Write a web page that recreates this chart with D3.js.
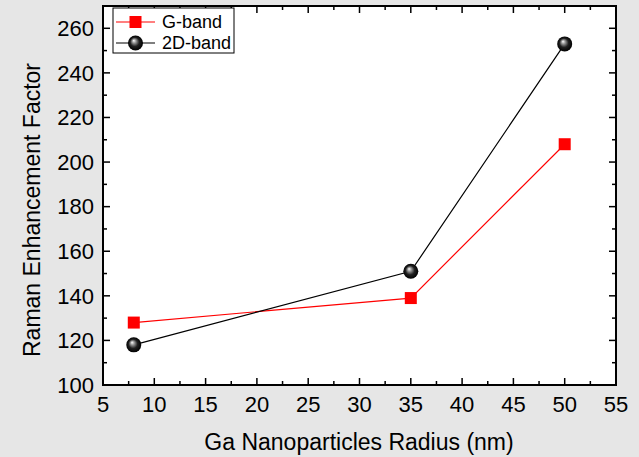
<!DOCTYPE html>
<html>
<head>
<meta charset="utf-8">
<script src="https://cdn.jsdelivr.net/npm/d3@7"></script>
<style>
  html, body { margin: 0; padding: 0; background: #e6e6e6; }
  svg { display: block; font-family: "Liberation Sans", Arial, sans-serif; }
</style>
</head>
<body>
<svg id="chart" width="639" height="457"></svg>
<script>
// Nanoparticle radius (nm) and Raman enhancement factors per band
const radius = [8, 35, 50];
const gBand = [128, 139, 208];
const dBand = [118, 151, 253];
const xTicks = [5, 10, 15, 20, 25, 30, 35, 40, 45, 50, 55];
const yTicks = [100, 120, 140, 160, 180, 200, 220, 240, 260];
const seriesNames = ["G-band", "2D-band"];

const svg = d3.select("#chart");
const m = { left: 103, right: 616, top: 6, bottom: 385 };

const x = d3.scaleLinear().domain([5, 55]).range([m.left, m.right]);
const y = d3.scaleLinear().domain([100, 270]).range([m.bottom, m.top]);

// sphere-like shading for the 2D-band markers
const defs = svg.append("defs");
const grad = defs.append("radialGradient").attr("id", "ball")
  .attr("cx", "50%").attr("cy", "50%").attr("r", "50%")
  .attr("fx", "38%").attr("fy", "33%");
grad.append("stop").attr("offset", "0%").attr("stop-color", "#ffffff");
grad.append("stop").attr("offset", "25%").attr("stop-color", "#9a9a9a");
grad.append("stop").attr("offset", "60%").attr("stop-color", "#202020");
grad.append("stop").attr("offset", "100%").attr("stop-color", "#000000");

// plot area
svg.append("rect")
  .attr("x", m.left).attr("y", m.top)
  .attr("width", m.right - m.left).attr("height", m.bottom - m.top)
  .attr("fill", "#ffffff");

// minor ticks at half steps
const xMinor = d3.range(7.5, 55, 5);
const yMinor = d3.range(110, 270, 20);

const ticks = svg.append("g").attr("stroke", "#000").attr("stroke-width", 1.5);
xTicks.forEach(v => {
  ticks.append("line").attr("x1", x(v)).attr("x2", x(v)).attr("y1", m.bottom).attr("y2", m.bottom - 7);
  ticks.append("line").attr("x1", x(v)).attr("x2", x(v)).attr("y1", m.top).attr("y2", m.top + 7);
});
xMinor.forEach(v => {
  ticks.append("line").attr("x1", x(v)).attr("x2", x(v)).attr("y1", m.bottom).attr("y2", m.bottom - 4);
  ticks.append("line").attr("x1", x(v)).attr("x2", x(v)).attr("y1", m.top).attr("y2", m.top + 4);
});
yTicks.forEach(v => {
  ticks.append("line").attr("y1", y(v)).attr("y2", y(v)).attr("x1", m.left).attr("x2", m.left + 7);
  ticks.append("line").attr("y1", y(v)).attr("y2", y(v)).attr("x1", m.right).attr("x2", m.right - 7);
});
yMinor.forEach(v => {
  ticks.append("line").attr("y1", y(v)).attr("y2", y(v)).attr("x1", m.left).attr("x2", m.left + 4);
  ticks.append("line").attr("y1", y(v)).attr("y2", y(v)).attr("x1", m.right).attr("x2", m.right - 4);
});

// frame
svg.append("rect")
  .attr("x", m.left).attr("y", m.top)
  .attr("width", m.right - m.left).attr("height", m.bottom - m.top)
  .attr("fill", "none").attr("stroke", "#000").attr("stroke-width", 2);

// tick labels
svg.append("g").selectAll("text").data(xTicks).join("text")
  .attr("x", d => x(d)).attr("y", 412)
  .attr("text-anchor", "middle").attr("font-size", 22).attr("fill", "#000")
  .text(d => d);
svg.append("g").selectAll("text").data(yTicks).join("text")
  .attr("x", 94).attr("y", d => y(d)).attr("dy", "0.35em")
  .attr("text-anchor", "end").attr("font-size", 22).attr("fill", "#000")
  .text(d => d);

// axis titles
svg.append("text")
  .attr("x", 359).attr("y", 450)
  .attr("text-anchor", "middle").attr("font-size", 23).attr("fill", "#000")
  .text("Ga Nanoparticles Radius (nm)");
svg.append("text")
  .attr("transform", "translate(40,210) rotate(-90)")
  .attr("text-anchor", "middle").attr("font-size", 23).attr("fill", "#000")
  .text("Raman Enhancement Factor");

// series lines
const line = d3.line().x(d => x(d[0])).y(d => y(d[1]));
const gPts = radius.map((r, i) => [r, gBand[i]]);
const dPts = radius.map((r, i) => [r, dBand[i]]);

svg.append("path").datum(gPts).attr("d", line)
  .attr("fill", "none").attr("stroke", "#ff0000").attr("stroke-width", 1.2);
svg.append("path").datum(dPts).attr("d", line)
  .attr("fill", "none").attr("stroke", "#000").attr("stroke-width", 1.2);

// markers
const sq = 12;
svg.append("g").selectAll("rect").data(gPts).join("rect")
  .attr("x", d => x(d[0]) - sq / 2).attr("y", d => y(d[1]) - sq / 2)
  .attr("width", sq).attr("height", sq).attr("fill", "#ff0000");
svg.append("g").selectAll("circle").data(dPts).join("circle")
  .attr("cx", d => x(d[0])).attr("cy", d => y(d[1])).attr("r", 7.5)
  .attr("fill", "url(#ball)");

// legend
const lg = svg.append("g");
lg.append("rect").attr("x", 113).attr("y", 8).attr("width", 121).attr("height", 45)
  .attr("fill", "#fff").attr("stroke", "#000").attr("stroke-width", 1);
const rows = [22, 43];
lg.append("line").attr("x1", 116).attr("x2", 155).attr("y1", rows[0]).attr("y2", rows[0])
  .attr("stroke", "#ff0000").attr("stroke-width", 1.2);
lg.append("rect").attr("x", 135.5 - sq / 2).attr("y", rows[0] - sq / 2)
  .attr("width", sq).attr("height", sq).attr("fill", "#ff0000");
lg.append("line").attr("x1", 116).attr("x2", 155).attr("y1", rows[1]).attr("y2", rows[1])
  .attr("stroke", "#000").attr("stroke-width", 1.2);
lg.append("circle").attr("cx", 135.5).attr("cy", rows[1]).attr("r", 7.5).attr("fill", "url(#ball)");
lg.selectAll("text.lab").data(seriesNames).join("text")
  .attr("class", "lab")
  .attr("x", 162).attr("y", (d, i) => rows[i] + 6)
  .attr("font-size", 18).attr("fill", "#000")
  .text(d => d);
</script>
</body>
</html>
